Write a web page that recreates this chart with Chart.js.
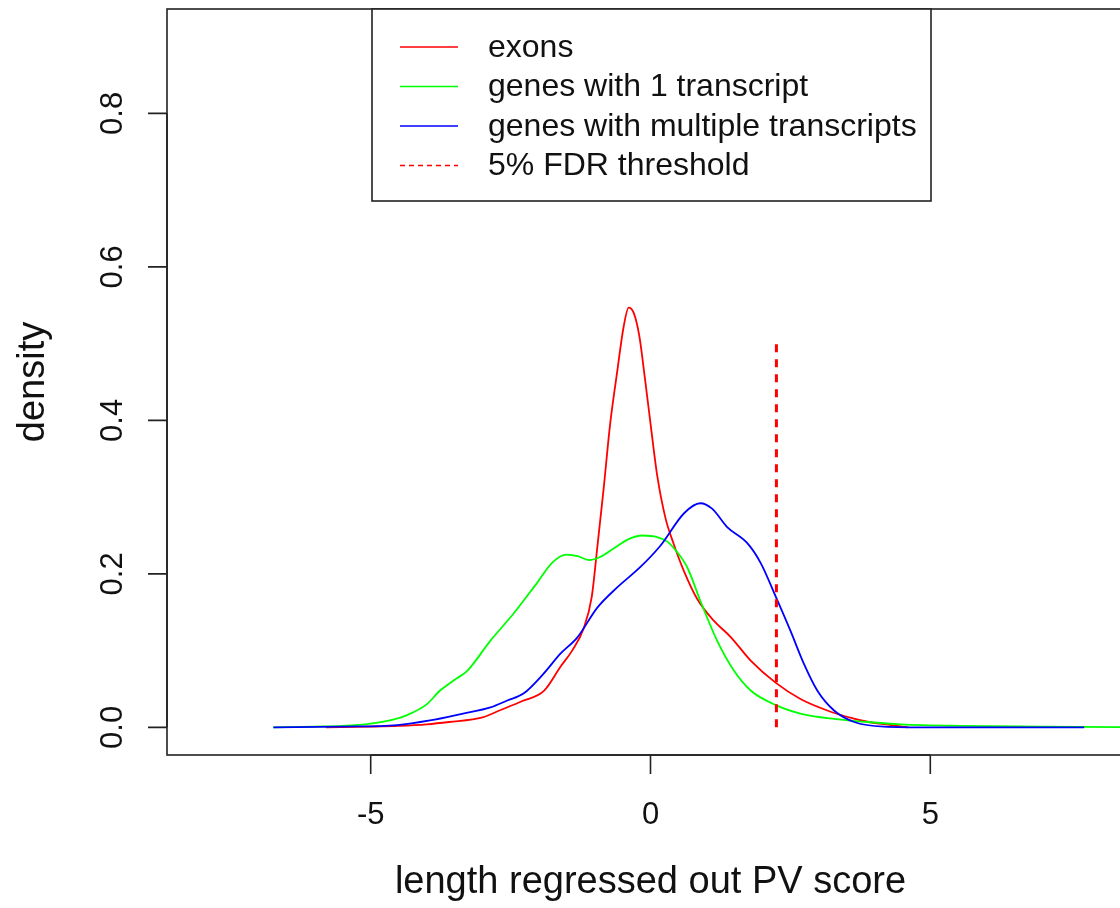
<!DOCTYPE html>
<html>
<head>
<meta charset="utf-8">
<script src="https://cdn.jsdelivr.net/npm/chart.js@4.4.1/dist/chart.umd.min.js"></script>
<style>
html, body { margin: 0; padding: 0; background: #fff; overflow: hidden; }
#wrap { width: 1140px; height: 908px; }
</style>
</head>
<body>
<div id="wrap"><canvas id="densityChart" width="1140" height="908"></canvas></div>
<script>
// density curves
var exonsX = [-5.8, -5.0, -4.5, -4.0, -3.6, -3.0, -2.7, -2.3, -1.9, -1.6, -1.4, -1.2, -1.05, -0.95, -0.84, -0.72, -0.6, -0.48, -0.39, -0.3, -0.2, -0.1, 0.0, 0.12, 0.27, 0.41, 0.59, 0.83, 1.13, 1.43, 1.79, 2.24, 2.68, 3.16, 3.6, 3.9, 4.3, 4.6];
var exonsY = [0, 0.001, 0.002, 0.004, 0.007, 0.013, 0.022, 0.034, 0.048, 0.08, 0.1, 0.128, 0.17, 0.235, 0.309, 0.396, 0.461, 0.522, 0.547, 0.54, 0.51, 0.455, 0.396, 0.328, 0.272, 0.24, 0.205, 0.168, 0.139, 0.118, 0.087, 0.058, 0.037, 0.022, 0.012, 0.007, 0.003, 0];

var oneTxX = [-6.74, -6.0, -5.5, -5.0, -4.6, -4.35, -4.0, -3.76, -3.5, -3.27, -2.86, -2.45, -2.03, -1.75, -1.5, -1.3, -1.1, -0.9, -0.66, -0.4, -0.15, 0.12, 0.3, 0.48, 0.66, 0.89, 1.19, 1.49, 1.79, 2.24, 2.68, 3.28, 3.88, 4.47, 5.5, 7.0, 9.0];
var oneTxY = [0, 0.001, 0.002, 0.005, 0.01, 0.016, 0.03, 0.048, 0.062, 0.074, 0.113, 0.148, 0.188, 0.215, 0.225, 0.223, 0.218, 0.222, 0.233, 0.245, 0.25, 0.248, 0.242, 0.228, 0.208, 0.165, 0.113, 0.074, 0.048, 0.029, 0.018, 0.011, 0.007, 0.004, 0.002, 0.001, 0];

var multiTxX = [-6.74, -5.5, -4.53, -3.94, -3.35, -2.86, -2.56, -2.27, -1.91, -1.61, -1.31, -0.95, -0.6, -0.18, 0.18, 0.6, 0.89, 1.1, 1.37, 1.73, 1.97, 2.24, 2.5, 2.74, 2.98, 3.28, 3.64, 4.17, 5.0, 7.75];
var multiTxY = [0, 0.001, 0.003, 0.009, 0.018, 0.026, 0.035, 0.044, 0.07, 0.096, 0.117, 0.156, 0.182, 0.209, 0.237, 0.279, 0.292, 0.285, 0.261, 0.24, 0.214, 0.17, 0.126, 0.083, 0.048, 0.022, 0.007, 0.001, 0, 0];

var fdrThreshold = 2.25;
var fdrTop = 0.5;

var seriesLabels = ['exons', 'genes with 1 transcript', 'genes with multiple transcripts', '5% FDR threshold'];
var xTicks = [-5, 0, 5];
var xTickLabels = ['-5', '0', '5'];
var yTicks = [0, 0.2, 0.4, 0.6, 0.8];
var yTickLabels = ['0.0', '0.2', '0.4', '0.6', '0.8'];

var FONT = '"Liberation Sans", Arial, sans-serif';

function toPoints(xs, ys) {
    var pts = [];
    for (var i = 0; i < xs.length; i++) {
        pts.push({ x: xs[i], y: ys[i] });
    }
    return pts;
}

// R style box, axes, labels and legend
var rStyle = {
    id: 'rStyle',
    afterDraw: function (chart) {
        var ctx = chart.ctx;
        var area = chart.chartArea;
        var xs = chart.scales.x;
        var ys = chart.scales.y;
        ctx.save();
        ctx.strokeStyle = '#222';
        ctx.lineWidth = 1.6;
        ctx.strokeRect(area.left, area.top, area.right - area.left, area.bottom - area.top);

        // x axis
        var x0 = xs.getPixelForValue(xTicks[0]);
        var x1 = xs.getPixelForValue(xTicks[xTicks.length - 1]);
        ctx.beginPath();
        ctx.moveTo(x0, area.bottom);
        ctx.lineTo(x1, area.bottom);
        xTicks.forEach(function (t) {
            var px = xs.getPixelForValue(t);
            ctx.moveTo(px, area.bottom);
            ctx.lineTo(px, area.bottom + 19);
        });
        // y axis
        var y0 = ys.getPixelForValue(yTicks[0]);
        var y1 = ys.getPixelForValue(yTicks[yTicks.length - 1]);
        ctx.moveTo(area.left, y0);
        ctx.lineTo(area.left, y1);
        yTicks.forEach(function (t) {
            var py = ys.getPixelForValue(t);
            ctx.moveTo(area.left, py);
            ctx.lineTo(area.left - 19, py);
        });
        ctx.stroke();

        ctx.fillStyle = '#111';
        ctx.font = '31px ' + FONT;
        ctx.textAlign = 'center';
        ctx.textBaseline = 'alphabetic';
        xTicks.forEach(function (t, i) {
            ctx.fillText(xTickLabels[i], xs.getPixelForValue(t), 824);
        });
        yTicks.forEach(function (t, i) {
            ctx.save();
            ctx.translate(122, ys.getPixelForValue(t));
            ctx.rotate(-Math.PI / 2);
            ctx.fillText(yTickLabels[i], 0, 0);
            ctx.restore();
        });

        // axis titles
        ctx.font = '38px ' + FONT;
        ctx.fillText('length regressed out PV score', xs.getPixelForValue(0), 893);
        ctx.save();
        ctx.translate(44, (area.top + area.bottom) / 2);
        ctx.rotate(-Math.PI / 2);
        ctx.fillText('density', 0, 0);
        ctx.restore();

        // legend
        var lx = 372, ly = 9, lw = 559, lh = 192;
        ctx.fillStyle = '#fff';
        ctx.fillRect(lx, ly, lw, lh);
        ctx.strokeStyle = '#222';
        ctx.lineWidth = 1.6;
        ctx.strokeRect(lx, ly, lw, lh);
        ctx.font = '32px ' + FONT;
        ctx.textAlign = 'left';
        ctx.textBaseline = 'middle';
        chart.data.datasets.forEach(function (ds, i) {
            var rowY = 47 + i * 39.5;
            ctx.beginPath();
            ctx.strokeStyle = ds.borderColor;
            ctx.lineWidth = 1.6;
            ctx.setLineDash(ds.borderDash && ds.borderDash.length ? [5, 4] : []);
            ctx.moveTo(400, rowY);
            ctx.lineTo(458, rowY);
            ctx.stroke();
            ctx.setLineDash([]);
            ctx.fillStyle = '#111';
            ctx.fillText(ds.label, 488, rowY + 1);
        });
        ctx.restore();
    }
};

var ctx = document.getElementById('densityChart').getContext('2d');
var lineOpts = { pointRadius: 0, borderWidth: 1.8, fill: false, cubicInterpolationMode: 'monotone' };

new Chart(ctx, {
    type: 'line',
    data: {
        datasets: [
            Object.assign({ label: seriesLabels[0], data: toPoints(exonsX, exonsY), borderColor: '#ff0000', order: 3 }, lineOpts),
            Object.assign({ label: seriesLabels[1], data: toPoints(oneTxX, oneTxY), borderColor: '#00ff00', order: 2 }, lineOpts),
            Object.assign({ label: seriesLabels[2], data: toPoints(multiTxX, multiTxY), borderColor: '#0000ff', order: 1 }, lineOpts),
            {
                label: seriesLabels[3],
                data: toPoints([fdrThreshold, fdrThreshold], [0, fdrTop]),
                borderColor: '#ff0000',
                borderWidth: 3,
                borderDash: [8, 7],
                pointRadius: 0,
                fill: false,
                order: 0
            }
        ]
    },
    options: {
        responsive: false,
        animation: false,
        layout: { padding: { left: 167, top: 9, right: 6, bottom: 153 } },
        plugins: { legend: { display: false }, tooltip: { enabled: false } },
        scales: {
            x: { type: 'linear', min: -8.64, max: 8.64, display: false },
            y: { type: 'linear', min: -0.036, max: 0.936, display: false }
        }
    },
    plugins: [rStyle]
});
</script>
</body>
</html>
